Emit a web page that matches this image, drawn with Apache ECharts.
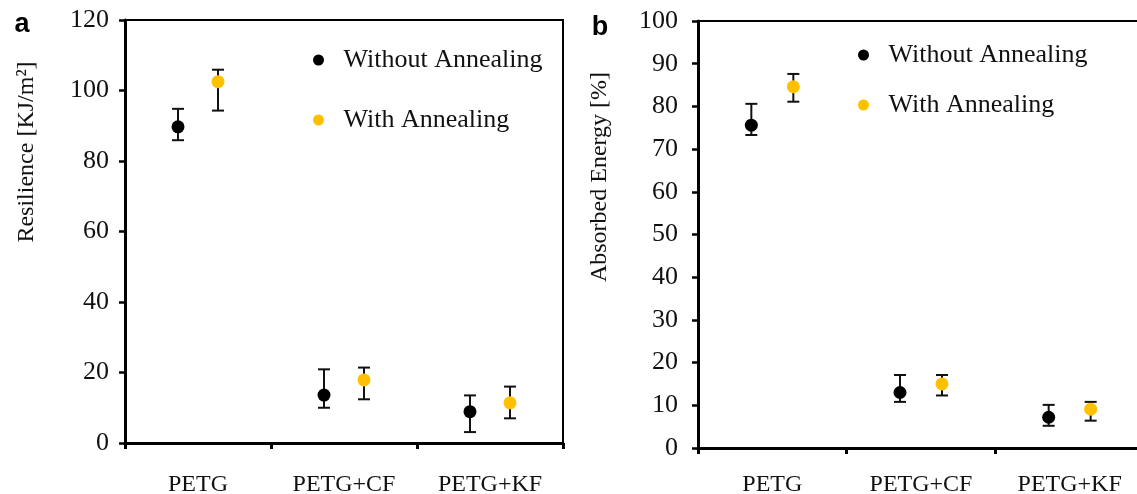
<!DOCTYPE html>
<html>
<head>
<meta charset="utf-8">
<style>
  html, body { margin: 0; padding: 0; background: #fff; }
  #chart { width: 1137px; height: 494px; }
</style>
<script src="https://cdn.jsdelivr.net/npm/echarts@6/dist/echarts.min.js"></script>
</head>
<body>
<div id="chart"></div>
<script>
// 退火前后 冲击性能对比 (a: 回弹能, b: 吸收能量)
var categories = ['PETG', 'PETG+CF', 'PETG+KF'];
var seriesNames = ['Without Annealing', 'With Annealing'];

// a: Resilience [KJ/m2]
var resWithout = [89.7, 13.6, 8.9];
var resWithoutLow = [85.9, 10.0, 3.1];
var resWithoutHigh = [94.8, 20.9, 13.5];
var resWith = [102.5, 17.9, 11.4];
var resWithLow = [94.3, 12.4, 7.0];
var resWithHigh = [105.9, 21.4, 16.0];

// b: Absorbed Energy [%]
var absWithout = [75.6, 13.0, 7.2];
var absWithoutLow = [73.3, 10.8, 5.2];
var absWithoutHigh = [80.6, 17.1, 10.1];
var absWith = [84.6, 15.0, 9.1];
var absWithLow = [81.1, 12.3, 6.4];
var absWithHigh = [87.6, 17.1, 10.8];

var black = '#000000';
var gold = '#FFC000';
var serif = 'Liberation Serif';

var chart = echarts.init(document.getElementById('chart'), null, { renderer: 'canvas' });

function errSeries(name, vals, lows, highs, color, gi, shift) {
  var data = vals.map(function (v, i) { return [i, v, lows[i], highs[i]]; });
  return {
    name: name,
    type: 'custom',
    xAxisIndex: gi,
    yAxisIndex: gi,
    itemStyle: { color: color },
    encode: { x: 0, y: 1 },
    data: data,
    z: color === gold ? 4 : 3,
    renderItem: function (params, api) {
      var c = api.coord([api.value(0), api.value(1)]);
      var lo = api.coord([api.value(0), api.value(2)]);
      var hi = api.coord([api.value(0), api.value(3)]);
      var x = c[0] + shift;
      var st = { stroke: '#111', lineWidth: 2 };
      return {
        type: 'group',
        children: [
          { type: 'line', shape: { x1: x, y1: hi[1], x2: x, y2: lo[1] }, style: st },
          { type: 'line', shape: { x1: x - 6, y1: hi[1], x2: x + 6, y2: hi[1] }, style: st },
          { type: 'line', shape: { x1: x - 6, y1: lo[1], x2: x + 6, y2: lo[1] }, style: st },
          { type: 'circle', shape: { cx: x, cy: c[1], r: 6.5 }, style: { fill: color } }
        ]
      };
    }
  };
}

var axisLine = { show: true, lineStyle: { color: '#000', width: 3 } };

function xAx(gi, margin) {
  return {
    type: 'category', gridIndex: gi, data: categories,
    axisLine: axisLine,
    axisTick: { show: true, length: 6, lineStyle: { color: '#000', width: 3 } },
    axisLabel: { color: '#111', fontFamily: serif, fontSize: 24, margin: margin },
    splitLine: { show: false }
  };
}
function yAx(gi, max, step, margin) {
  return {
    type: 'value', gridIndex: gi, min: 0, max: max, interval: step,
    axisLine: axisLine,
    axisTick: { show: true, length: 6, lineStyle: { color: '#000', width: 2.5 } },
    axisLabel: { color: '#111', fontFamily: serif, fontSize: 26, margin: margin },
    splitLine: { show: false }
  };
}
function legendAt(left, top, gap) {
  return {
    orient: 'vertical', left: left, top: top, itemGap: gap,
    icon: 'circle', itemWidth: 40, itemHeight: 11,
    data: seriesNames,
    textStyle: { color: '#111', fontFamily: serif, fontSize: 26, lineHeight: 26 },
    selectedMode: false
  };
}

chart.setOption({
  animation: false,
  backgroundColor: '#fff',
  grid: [
    { left: 125, top: 20, width: 438, height: 423, show: true, borderColor: '#000', borderWidth: 2, containLabel: false, outerBoundsMode: 'none' },
    { left: 698, top: 21, width: 446, height: 427, show: true, borderColor: '#000', borderWidth: 2, containLabel: false, outerBoundsMode: 'none' }
  ],
  legend: [legendAt(308, 42, 34), legendAt(853, 37, 24)],
  xAxis: [xAx(0, 30), xAx(1, 25)],
  yAxis: [yAx(0, 120, 20, 16), yAx(1, 100, 10, 20)],
  graphic: [
    { type: 'text', x: 22, y: 25, style: { text: 'a', font: 'bold 27px "Liberation Sans"', fill: '#000', textAlign: 'center', textVerticalAlign: 'middle' } },
    { type: 'text', x: 600, y: 28, style: { text: 'b', font: 'bold 27px "Liberation Sans"', fill: '#000', textAlign: 'center', textVerticalAlign: 'middle' } },
    { type: 'text', x: 27, y: 152, rotation: Math.PI / 2, style: { text: 'Resilience [KJ/m²]', font: '24px "Liberation Serif"', fill: '#111', textAlign: 'center', textVerticalAlign: 'middle' } },
    { type: 'text', x: 600, y: 177, rotation: Math.PI / 2, style: { text: 'Absorbed Energy [%]', font: '24px "Liberation Serif"', fill: '#111', textAlign: 'center', textVerticalAlign: 'middle' } }
  ],
  series: [
    errSeries(seriesNames[0], resWithout, resWithoutLow, resWithoutHigh, black, 0, -20),
    errSeries(seriesNames[1], resWith, resWithLow, resWithHigh, gold, 0, 20),
    errSeries(seriesNames[0], absWithout, absWithoutLow, absWithoutHigh, black, 1, -21),
    errSeries(seriesNames[1], absWith, absWithLow, absWithHigh, gold, 1, 21)
  ]
});
window.addEventListener('resize', function () { chart.resize(); });
</script>
</body>
</html>
